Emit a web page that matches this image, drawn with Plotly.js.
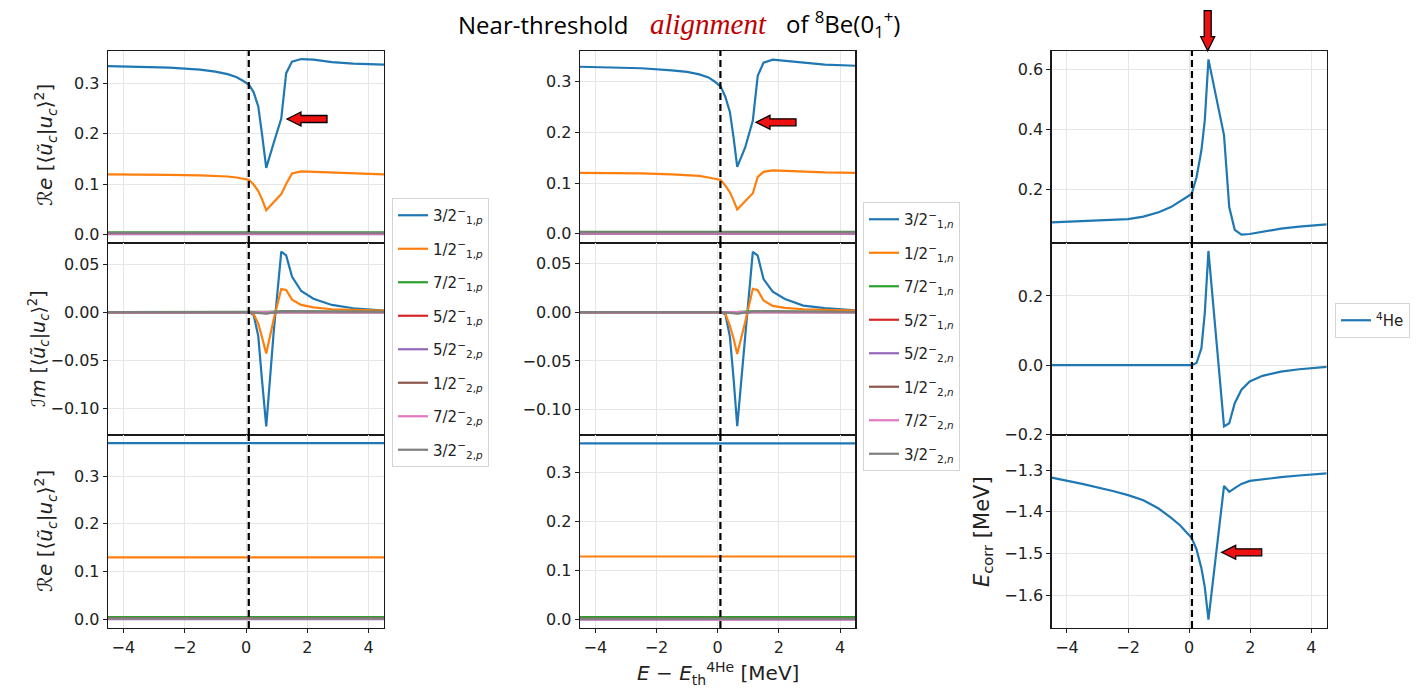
<!DOCTYPE html>
<html><head><meta charset="utf-8">
<script src="https://cdn.plot.ly/plotly-3.0.1.min.js"></script>
<style>html,body{margin:0;padding:0;background:#fff}</style>
</head><body><div id="chart" style="width:1422px;height:693px"></div>
<script>
// ---------------- DATA ----------------
const jLabels = ['3/2','1/2','7/2','5/2','5/2','1/2','7/2','3/2'];
const jIndex  = ['1','1','1','1','2','2','2','2'];
const seriesColors = ['#1f77b4','#ff7f0e','#2ca02c','#d62728','#9467bd','#8c564b','#e377c2','#7f7f7f'];
const threshold = 0.09;

// proton column (left)
const xP = [-4.5,-3.5,-2.5,-1.5,-1.0,-0.6,-0.3,-0.1,0.1,0.25,0.4,0.52,0.66,0.9,1.15,1.31,1.5,1.8,2.2,2.8,3.5,4.5];
const reP_32_1 = [0.334,0.333,0.331,0.327,0.323,0.318,0.312,0.305,0.297,0.282,0.254,0.200,0.132,0.181,0.230,0.320,0.343,0.348,0.347,0.342,0.339,0.337];
const reP_12_1 = [0.119,0.119,0.118,0.117,0.116,0.115,0.113,0.111,0.108,0.099,0.086,0.070,0.048,0.064,0.080,0.100,0.121,0.125,0.124,0.122,0.120,0.119];
const imP_32_1 = [0,0,0,0,0,0,0,0,0,-0.003,-0.025,-0.070,-0.119,-0.022,0.063,0.059,0.037,0.022,0.014,0.0075,0.004,0.0015];
const imP_12_1 = [0,0,0,0,0,0,0,0,0,-0.002,-0.012,-0.026,-0.043,-0.008,0.024,0.023,0.013,0.0075,0.005,0.003,0.0022,0.0015];

// neutron column (middle)
const xN = [-4.5,-3.5,-2.5,-1.5,-1.0,-0.6,-0.3,-0.1,0.1,0.25,0.4,0.52,0.64,0.9,1.15,1.31,1.5,1.8,2.2,2.8,3.5,4.5];
const reN_32_1 = [0.329,0.328,0.326,0.322,0.319,0.314,0.308,0.300,0.290,0.270,0.240,0.190,0.132,0.170,0.223,0.311,0.337,0.343,0.341,0.337,0.333,0.331];
const reN_12_1 = [0.120,0.120,0.119,0.117,0.116,0.114,0.111,0.109,0.106,0.095,0.082,0.066,0.048,0.064,0.080,0.112,0.122,0.125,0.124,0.122,0.121,0.120];
const imN_32_1 = [0,0,0,0,0,0,0,0,0,-0.002,-0.025,-0.068,-0.117,-0.025,0.062,0.058,0.034,0.021,0.0135,0.0068,0.0042,0.002];
const imN_12_1 = [0,0,0,0,0,0,0,0,0,-0.0015,-0.014,-0.027,-0.043,-0.010,0.024,0.0225,0.012,0.0065,0.0045,0.003,0.0022,0.0017];

// minor channels (7/2_1, 5/2_1, 5/2_2, 1/2_2, 7/2_2, 3/2_2), nearly zero
const xMinor = [-4.5, 0.1, 0.66, 1.15, 4.5];
const reMinor = [
  [0.004,0.004,0.003,0.004,0.004],
  [0.001,0.001,0.001,0.001,0.001],
  [0.0005,0.0005,0.0005,0.0005,0.0005],
  [0.002,0.002,0.0015,0.002,0.002],
  [0.0015,0.0015,0.001,0.0015,0.0015],
  [0.003,0.003,0.002,0.003,0.003]
];
const imMinor = [
  [0,0,0.0003,0.0008,0.0002],
  [0,0,0,0,0],
  [0,0,0,0,0],
  [0,0,-0.001,0.0003,0],
  [0,0,0,0,0],
  [0,0,-0.0015,0.0008,0.0002]
];
// bottom row: energy-independent values (all 8 channels)
const xFlat = [-4.5, 4.5];
const botP = [0.369,0.130,0.005,0.001,0.0005,0.002,0.001,0.0015];
const botN = [0.360,0.129,0.005,0.001,0.0005,0.002,0.001,0.0015];

// 4He column (right)
const xHe = [-4.5,-3.5,-2.5,-2,-1.5,-1.0,-0.6,-0.3,-0.1,0.08,0.24,0.4,0.51,0.63,1.14,1.31,1.49,1.71,1.98,2.4,3.0,3.6,4.5];
const reHe = [0.089,0.093,0.097,0.100,0.108,0.123,0.140,0.159,0.173,0.184,0.240,0.330,0.430,0.634,0.380,0.140,0.064,0.048,0.050,0.058,0.068,0.075,0.082];
const imHe = [0,0,0,0,0,0,0,0,0,0,0.006,0.049,0.150,0.330,-0.177,-0.168,-0.110,-0.071,-0.047,-0.031,-0.019,-0.012,-0.005];
const eCorr = [-1.318,-1.333,-1.350,-1.360,-1.372,-1.392,-1.414,-1.432,-1.448,-1.462,-1.490,-1.535,-1.580,-1.658,-1.338,-1.352,-1.343,-1.333,-1.326,-1.322,-1.317,-1.313,-1.308];

// ---------------- LAYOUT HELPERS ----------------
const W = 1422, H = 693;
const colPx = [[108,384],[580,855.3],[1051.7,1326.7]];
const rowPx = [[51,243],[243,435],[435,628]];
const yRanges = [
  [[-0.017,0.364],[-0.128,0.072],[-0.018,0.386]],
  [[-0.018,0.360],[-0.126,0.071],[-0.017,0.377]],
  [[0.02,0.662],[-0.202,0.353],[-1.678,-1.216]]
];
const yTicks = [
  [[0.1,'.1f'],[0.05,'.2f'],[0.1,'.1f']],
  [[0.1,'.1f'],[0.05,'.2f'],[0.1,'.1f']],
  [[0.2,'.1f'],[0.2,'.1f'],[0.1,'.1f']]
];
const FONT = 'DejaVu Sans, sans-serif';
const layout = {
  width: W, height: H,
  margin: {l:0, r:0, t:0, b:0},
  paper_bgcolor: '#fff', plot_bgcolor: '#fff',
  font: {family: FONT, color: '#222', size: 15},
  showlegend: true,
  shapes: [], annotations: []
};
function nm(i){ return i===1 ? '' : String(i); }
for (let c=0;c<3;c++){
  for (let r=0;r<3;r++){
    const i = c*3 + r + 1;
    const xd = [colPx[c][0]/W, colPx[c][1]/W];
    const yd = [1-rowPx[r][1]/H, 1-rowPx[r][0]/H];
    layout['xaxis'+nm(i)] = {
      domain: xd, anchor: 'y'+nm(i), range: [-4.5,4.5],
      tickvals: [-4,-2,0,2,4], ticks: 'outside', ticklen: 4, tickcolor: '#222',
      showticklabels: r===2, tickfont: {size: 16, color: '#222'},
      showgrid: true, gridcolor: '#e6e6e6', gridwidth: 1,
      showline: true, mirror: true, linecolor: '#1a1a1a', linewidth: 1.3,
      zeroline: false, fixedrange: true
    };
    layout['yaxis'+nm(i)] = {
      domain: yd, anchor: 'x'+nm(i), range: yRanges[c][r],
      dtick: yTicks[c][r][0], tick0: 0, tickformat: yTicks[c][r][1],
      ticks: 'outside', ticklen: 4, tickcolor: '#222',
      tickfont: {size: 16, color: '#222'},
      showgrid: true, gridcolor: '#e6e6e6', gridwidth: 1,
      showline: true, mirror: true, linecolor: '#1a1a1a', linewidth: 1.3,
      zeroline: false, fixedrange: true
    };
    layout.shapes.push({
      type: 'line', xref: 'x'+nm(i), yref: 'y'+nm(i)+' domain',
      x0: threshold, x1: threshold, y0: 0, y1: 1,
      line: {color: '#000', width: 2.2, dash: '7px,4px'}, layer: 'above'
    });
  }
}

// ---------------- TRACES ----------------
const traces = [];
function addLine(i, x, y, color, name, legend, show, group){
  traces.push({
    type: 'scatter', mode: 'lines', x: x, y: y,
    xaxis: 'x'+nm(i), yaxis: 'y'+nm(i),
    line: {color: color, width: 2.2},
    name: name, legend: legend, showlegend: show, legendgroup: group, hoverinfo: 'skip'
  });
}
function lab(k, t){ return jLabels[k] + '<sup>−</sup><sub>' + jIndex[k] + ',<i>' + t + '</i></sub>'; }

const colData = [
  {re: [reP_32_1, reP_12_1], im: [imP_32_1, imP_12_1], x: xP, bot: botP, t: 'p', leg: 'legend', base: 1},
  {re: [reN_32_1, reN_12_1], im: [imN_32_1, imN_12_1], x: xN, bot: botN, t: 'n', leg: 'legend2', base: 4}
];
colData.forEach(cd => {
  for (let k=0;k<8;k++){
    const name = lab(k, cd.t);
    const g = cd.t + k;
    if (k<2) addLine(cd.base, cd.x, cd.re[k], seriesColors[k], name, cd.leg, true, g);
    else addLine(cd.base, xMinor, reMinor[k-2], seriesColors[k], name, cd.leg, true, g);
  }
  for (let k=0;k<8;k++){
    const g = cd.t + k;
    if (k<2) addLine(cd.base+1, cd.x, cd.im[k], seriesColors[k], '', cd.leg, false, g);
    else addLine(cd.base+1, xMinor, imMinor[k-2], seriesColors[k], '', cd.leg, false, g);
  }
  for (let k=0;k<8;k++){
    addLine(cd.base+2, xFlat, [cd.bot[k], cd.bot[k]], seriesColors[k], '', cd.leg, false, cd.t + k);
  }
});
addLine(7, xHe, reHe, seriesColors[0], '<sup>4</sup>He', 'legend3', true, 'he');
addLine(8, xHe, imHe, seriesColors[0], '', 'legend3', false, 'he');
addLine(9, xHe, eCorr, seriesColors[0], '', 'legend3', false, 'he');

// ---------------- LEGENDS ----------------
const legBase = {
  xanchor: 'left', yanchor: 'top', bgcolor: '#fff',
  bordercolor: '#d4d4d4', borderwidth: 1,
  font: {family: FONT, size: 15, color: '#222'}, tracegroupgap: 11
};
layout.legend  = Object.assign({}, legBase, {x: 392/W, y: 1-198/H});
layout.legend2 = Object.assign({}, legBase, {x: 863/W, y: 1-202/H});
layout.legend3 = Object.assign({}, legBase, {x: 1335/W, y: 1-303/H});

// ---------------- TEXT ----------------
const ytitle = (t) => t + ' [⟨<i>ũ</i><sub><i>c</i></sub>|<i>u</i><sub><i>c</i></sub>⟩<sup>2</sup>]';
const ann = (text, px, py, size, extra) => Object.assign({
  text: text, x: px/W, y: 1-py/H, xref: 'paper', yref: 'paper',
  xanchor: 'center', yanchor: 'middle', showarrow: false,
  font: {family: FONT, size: size, color: '#222'}
}, extra || {});
layout.annotations.push(
  ann(ytitle('ℛ<i>e</i>'), 45, 145, 20, {textangle: -90}),
  ann(ytitle('ℐ<i>m</i>'), 38, 349, 19, {textangle: -90}),
  ann(ytitle('ℛ<i>e</i>'), 45, 531, 20, {textangle: -90}),
  ann('<i>E</i><sub>corr</sub> [MeV]', 983, 531, 21, {textangle: -90}),
  ann('<i>E</i> − <i>E</i><sub>th</sub><sup>4He</sup> [MeV]', 718, 673, 20),
  ann('Near-threshold', 630, 24, 24, {xanchor: 'right', font: {family: 'Open Sans, sans-serif', size: 24, color: '#000'}}),
  ann('<i>alignment</i>', 708, 24, 29, {font: {family: 'Liberation Serif, serif', size: 29, color: '#c00000'}}),
  ann('of <sup>8</sup>Be(0<sub>1</sub><sup>+</sup>)', 784, 24, 24, {xanchor: 'left', font: {family: 'Open Sans, sans-serif', size: 24, color: '#000'}})
);

// ---------------- RED ARROWS ----------------
const leftArrow = 'M0,0 L14,7 L14,3.5 L40,3.5 L40,-3.5 L14,-3.5 L14,-7 Z';
const downArrow = 'M0,0 L-7,14 L-3.5,14 L-3.5,40 L3.5,40 L3.5,14 L7,14 Z';
const arrowTips = [[287,119,leftArrow],[756,122.3,leftArrow],[1207.7,50.7,downArrow],[1221.7,552.3,leftArrow]];
arrowTips.forEach(a => layout.shapes.push({
  type: 'path', xref: 'paper', yref: 'paper', xsizemode: 'pixel', ysizemode: 'pixel',
  xanchor: a[0]/W, yanchor: 1-a[1]/H, path: a[2],
  fillcolor: '#ee1111', line: {color: '#000', width: 1.3}, layer: 'above'
}));

Plotly.newPlot('chart', traces, layout, {displayModeBar: false, staticPlot: true});
</script>
</body></html>
